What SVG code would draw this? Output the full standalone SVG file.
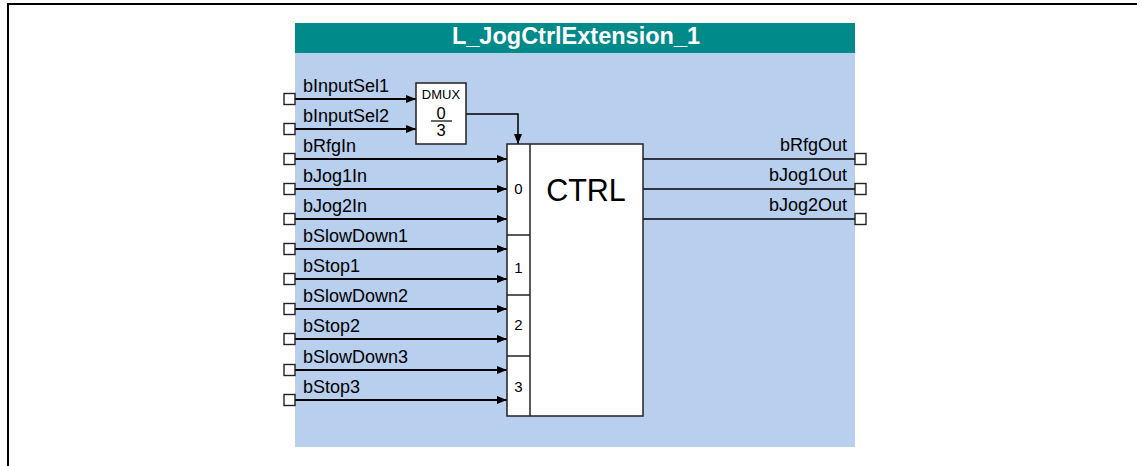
<svg xmlns="http://www.w3.org/2000/svg" width="1142" height="466" viewBox="0 0 1142 466">
<defs>
<marker id="arr" markerUnits="userSpaceOnUse" markerWidth="10" markerHeight="8" refX="10" refY="4" orient="auto">
<path d="M0,0 L10,4 L0,8 z" fill="#000"/>
</marker>
</defs>
<style>
.lbl{font-family:"Liberation Sans",Arial,sans-serif;font-size:18px;fill:#000}
.num{font-family:"Liberation Sans",Arial,sans-serif;font-size:15px;fill:#000}
.port{fill:#fff;stroke:#222;stroke-width:1.4}
.wire{stroke:#000;stroke-width:2;fill:none}
.owire{stroke:#000;stroke-width:1.5;fill:none}
.blk{fill:#fff;stroke:#222;stroke-width:1.5}
</style>
<path d="M8,466 V4 H1137" fill="none" stroke="#000" stroke-width="2"/>
<g id="panel">
<rect x="295" y="53" width="560" height="394" fill="#B8CFEE"/>
<rect x="295" y="23" width="560" height="30" fill="#008B8A"/>
<text x="576" y="44" text-anchor="middle" font-family="'Liberation Sans',Arial,sans-serif" font-size="23.5" font-weight="bold" fill="#fff">L_JogCtrlExtension_1</text>
</g>
<g id="connectors">
<line class="wire" x1="295" y1="99" x2="416" y2="99" marker-end="url(#arr)"/>
<line class="wire" x1="295" y1="129" x2="416" y2="129" marker-end="url(#arr)"/>
<polyline class="owire" points="466,114 518,114 518,144" marker-end="url(#arr)"/>
<line class="wire" x1="295" y1="159" x2="507" y2="159" marker-end="url(#arr)"/>
<line class="wire" x1="295" y1="189" x2="507" y2="189" marker-end="url(#arr)"/>
<line class="wire" x1="295" y1="219" x2="507" y2="219" marker-end="url(#arr)"/>
<line class="wire" x1="295" y1="249" x2="507" y2="249" marker-end="url(#arr)"/>
<line class="wire" x1="295" y1="279" x2="507" y2="279" marker-end="url(#arr)"/>
<line class="wire" x1="295" y1="309" x2="507" y2="309" marker-end="url(#arr)"/>
<line class="wire" x1="295" y1="339" x2="507" y2="339" marker-end="url(#arr)"/>
<line class="wire" x1="295" y1="370" x2="507" y2="370" marker-end="url(#arr)"/>
<line class="wire" x1="295" y1="400" x2="507" y2="400" marker-end="url(#arr)"/>
<line class="owire" x1="643" y1="159" x2="855" y2="159"/>
<line class="owire" x1="643" y1="189" x2="855" y2="189"/>
<line class="owire" x1="643" y1="219" x2="855" y2="219"/>
</g>
<g id="inputs">
<rect class="port" x="284" y="93.5" width="11" height="11"/><text class="lbl" x="303" y="92">bInputSel1</text>
<rect class="port" x="284" y="123.5" width="11" height="11"/><text class="lbl" x="303" y="122">bInputSel2</text>
<rect class="port" x="284" y="153.5" width="11" height="11"/><text class="lbl" x="303" y="152">bRfgIn</text>
<rect class="port" x="284" y="183.5" width="11" height="11"/><text class="lbl" x="303" y="182">bJog1In</text>
<rect class="port" x="284" y="213.5" width="11" height="11"/><text class="lbl" x="303" y="212">bJog2In</text>
<rect class="port" x="284" y="243.5" width="11" height="11"/><text class="lbl" x="303" y="242">bSlowDown1</text>
<rect class="port" x="284" y="273.5" width="11" height="11"/><text class="lbl" x="303" y="272">bStop1</text>
<rect class="port" x="284" y="303.5" width="11" height="11"/><text class="lbl" x="303" y="302">bSlowDown2</text>
<rect class="port" x="284" y="333.5" width="11" height="11"/><text class="lbl" x="303" y="332">bStop2</text>
<rect class="port" x="284" y="364.5" width="11" height="11"/><text class="lbl" x="303" y="363">bSlowDown3</text>
<rect class="port" x="284" y="394.5" width="11" height="11"/><text class="lbl" x="303" y="393">bStop3</text>
</g>
<g id="outputs">
<rect class="port" x="855" y="153.5" width="11" height="11"/><text class="lbl" x="847" y="151" text-anchor="end">bRfgOut</text>
<rect class="port" x="855" y="183.5" width="11" height="11"/><text class="lbl" x="847" y="181" text-anchor="end">bJog1Out</text>
<rect class="port" x="855" y="213.5" width="11" height="11"/><text class="lbl" x="847" y="211" text-anchor="end">bJog2Out</text>
</g>
<g id="dmux">
<rect class="blk" x="416" y="83" width="50" height="61"/>
<text x="441" y="99" text-anchor="middle" font-family="'Liberation Sans',Arial,sans-serif" font-size="13">DMUX</text>
<text x="441" y="119" text-anchor="middle" font-family="'Liberation Sans',Arial,sans-serif" font-size="16.5">0</text>
<line x1="431" y1="121" x2="452" y2="121" stroke="#000" stroke-width="1.2"/>
<text x="441" y="136" text-anchor="middle" font-family="'Liberation Sans',Arial,sans-serif" font-size="16.5">3</text>
</g>
<g id="ctrl">
<rect class="blk" x="507" y="144" width="136" height="272"/>
<line x1="530" y1="144" x2="530" y2="416" stroke="#222" stroke-width="1.5"/>
<line x1="507" y1="235" x2="530" y2="235" stroke="#222" stroke-width="1.5"/>
<line x1="507" y1="295" x2="530" y2="295" stroke="#222" stroke-width="1.5"/>
<line x1="507" y1="356" x2="530" y2="356" stroke="#222" stroke-width="1.5"/>
<text class="num" x="518.5" y="194" text-anchor="middle">0</text>
<text class="num" x="518.5" y="273" text-anchor="middle">1</text>
<text class="num" x="518.5" y="330" text-anchor="middle">2</text>
<text class="num" x="518.5" y="392" text-anchor="middle">3</text>
<text x="586" y="201" text-anchor="middle" font-family="'Liberation Sans',Arial,sans-serif" font-size="30.5">CTRL</text>
</g>
</svg>
